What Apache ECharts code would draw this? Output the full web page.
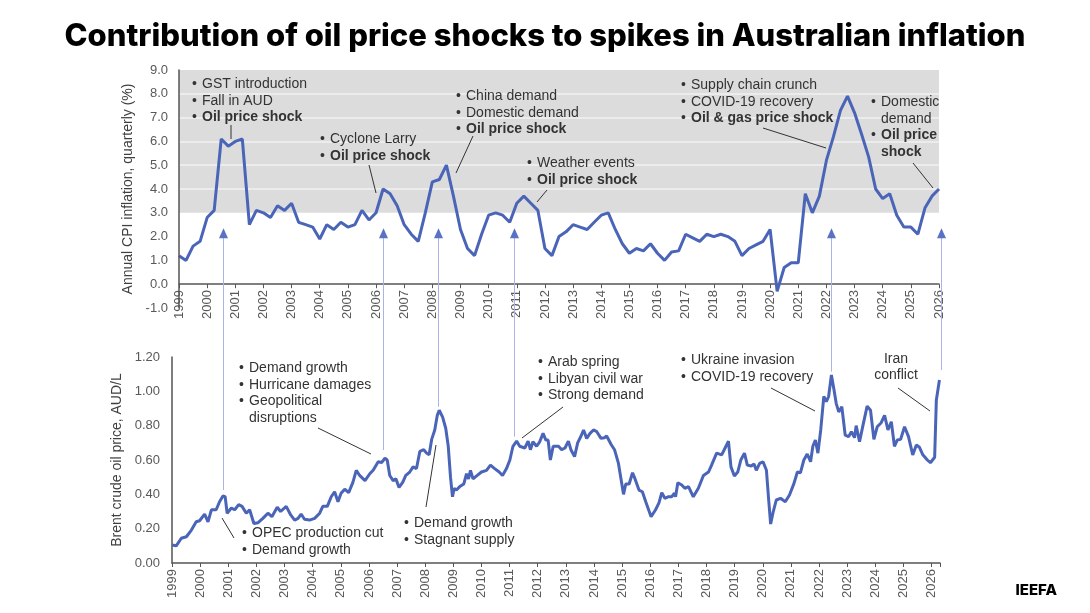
<!DOCTYPE html>
<html lang="en">
<head>
  <meta charset="UTF-8">
  <title>Oil price shocks and Australian inflation</title>
  <style>
    body { margin: 0; background-color: #fff; }
  </style>
  <script src="https://cdn.jsdelivr.net/npm/echarts@6/dist/echarts.min.js"></script>
</head>
<body>
<div id="chart" style="width: 1090px; height: 613px;"></div>
<script>
  // Annual CPI inflation, quarterly, from Q1 1999
  const cpiStart = 1999
  const cpiValues = [
    1.2, 1.0, 1.6, 1.8,   2.8, 3.1, 6.1, 5.8,   6.0, 6.1, 2.5, 3.1,
    3.0, 2.8, 3.3, 3.1,   3.4, 2.6, 2.5, 2.4,   1.9, 2.5, 2.3, 2.6,
    2.4, 2.5, 3.1, 2.7,   3.0, 4.0, 3.8, 3.3,   2.5, 2.1, 1.8, 3.0,
    4.3, 4.4, 5.0, 3.7,   2.3, 1.5, 1.2, 2.1,   2.9, 3.0, 2.9, 2.6,
    3.4, 3.7, 3.4, 3.1,   1.5, 1.2, 2.0, 2.2,   2.5, 2.4, 2.3, 2.6,
    2.9, 3.0, 2.3, 1.7,   1.3, 1.5, 1.4, 1.7,   1.3, 1.0, 1.35, 1.4,
    2.1, 1.95, 1.8, 2.1,  2.0, 2.1, 2.0, 1.8,   1.2, 1.5, 1.65, 1.8,
    2.3, -0.3, 0.7, 0.9,  0.9, 3.8, 3.0, 3.7,   5.2, 6.2, 7.3, 7.9,
    7.2, 6.3, 5.35, 4.0,  3.6, 3.8, 2.9, 2.4,   2.4, 2.1, 3.2, 3.7,
    4.0
  ]

  // Brent crude oil price, AUD/L (date as decimal year)
  const oilDates = [
    1999.00, 1999.15, 1999.33, 1999.51, 1999.69, 1999.86, 1999.98, 2000.16, 2000.28, 2000.40,
    2000.57, 2000.69, 2000.81, 2000.89, 2000.96, 2001.11, 2001.23, 2001.37, 2001.49, 2001.64,
    2001.76, 2001.91, 2002.06, 2002.23, 2002.41, 2002.55, 2002.74, 2002.86, 2003.06, 2003.22,
    2003.36, 2003.48, 2003.59, 2003.71, 2003.89, 2004.07, 2004.25, 2004.36, 2004.52, 2004.66,
    2004.78, 2004.90, 2005.01, 2005.14, 2005.28, 2005.43, 2005.55, 2005.67, 2005.86, 2006.03,
    2006.15, 2006.33, 2006.45, 2006.57, 2006.65, 2006.74, 2006.86, 2006.96, 2007.07, 2007.20,
    2007.31, 2007.45, 2007.57, 2007.69, 2007.81, 2007.95, 2008.05, 2008.14, 2008.23, 2008.34,
    2008.43, 2008.50, 2008.62, 2008.73, 2008.82, 2008.90, 2008.97, 2009.03, 2009.11, 2009.23,
    2009.37, 2009.47, 2009.54, 2009.61, 2009.70, 2009.85, 2010.00, 2010.18, 2010.32, 2010.47,
    2010.63, 2010.75, 2010.89, 2011.01, 2011.12, 2011.25, 2011.36, 2011.54, 2011.66, 2011.74,
    2011.83, 2011.96, 2012.07, 2012.19, 2012.29, 2012.37, 2012.45, 2012.55, 2012.62, 2012.74,
    2012.85, 2012.97, 2013.09, 2013.18, 2013.31, 2013.42, 2013.54, 2013.63, 2013.74, 2013.86,
    2013.98, 2014.10, 2014.25, 2014.37, 2014.45, 2014.61, 2014.73, 2014.87, 2014.99, 2015.05,
    2015.13, 2015.25, 2015.37, 2015.46, 2015.60, 2015.72, 2015.84, 2016.03, 2016.19, 2016.31,
    2016.41, 2016.52, 2016.65, 2016.76, 2016.86, 2016.90, 2016.98, 2017.12, 2017.23, 2017.36,
    2017.53, 2017.71, 2017.89, 2018.07, 2018.18, 2018.36, 2018.54, 2018.66, 2018.78, 2018.87,
    2018.99, 2019.11, 2019.22, 2019.35, 2019.45, 2019.59, 2019.69, 2019.77, 2019.89, 2020.01,
    2020.13, 2020.21, 2020.28, 2020.36, 2020.48, 2020.63, 2020.80, 2020.95, 2021.11, 2021.23,
    2021.34, 2021.46, 2021.58, 2021.70, 2021.78, 2021.87, 2021.96, 2022.06, 2022.17, 2022.26,
    2022.34, 2022.44, 2022.53, 2022.61, 2022.70, 2022.81, 2022.93, 2023.05, 2023.15, 2023.26,
    2023.32, 2023.44, 2023.56, 2023.71, 2023.83, 2023.95, 2024.07, 2024.21, 2024.33, 2024.45,
    2024.57, 2024.68, 2024.78, 2024.90, 2025.04, 2025.18, 2025.33, 2025.46, 2025.57, 2025.69,
    2025.85, 2025.96, 2026.11, 2026.17, 2026.28
  ]
  const oilPrices = [
    0.105, 0.10, 0.144, 0.153, 0.192, 0.24, 0.246, 0.285, 0.24, 0.31,
    0.31, 0.357, 0.39, 0.386, 0.29, 0.32, 0.31, 0.34, 0.33, 0.29,
    0.31, 0.23, 0.235, 0.26, 0.29, 0.27, 0.325, 0.30, 0.33, 0.28,
    0.25, 0.26, 0.285, 0.255, 0.25, 0.26, 0.29, 0.33, 0.33, 0.386,
    0.415, 0.357, 0.406, 0.43, 0.41, 0.47, 0.54, 0.51, 0.48, 0.52,
    0.54, 0.59, 0.585, 0.61, 0.60, 0.51, 0.48, 0.49, 0.44, 0.47,
    0.51, 0.53, 0.56, 0.55, 0.65, 0.66, 0.64, 0.63, 0.72, 0.775,
    0.86, 0.89, 0.85, 0.785, 0.68, 0.50, 0.386, 0.435, 0.425, 0.445,
    0.46, 0.52, 0.49, 0.54, 0.49, 0.51, 0.53, 0.54, 0.57, 0.55,
    0.53, 0.51, 0.55, 0.60, 0.68, 0.71, 0.68, 0.67, 0.71, 0.66,
    0.706, 0.68, 0.706, 0.755, 0.716, 0.716, 0.60, 0.68, 0.68, 0.68,
    0.66, 0.67, 0.71, 0.66, 0.62, 0.70, 0.74, 0.775, 0.726, 0.755,
    0.775, 0.765, 0.726, 0.73, 0.74, 0.69, 0.66, 0.58, 0.46, 0.40,
    0.46, 0.46, 0.526, 0.49, 0.425, 0.415, 0.357, 0.27, 0.31, 0.35,
    0.41, 0.377, 0.386, 0.386, 0.406, 0.386, 0.468, 0.454, 0.435, 0.445,
    0.386, 0.435, 0.51, 0.53, 0.57, 0.64, 0.63, 0.67, 0.71, 0.56,
    0.507, 0.53, 0.60, 0.64, 0.57, 0.565, 0.577, 0.54, 0.58, 0.59,
    0.54, 0.367, 0.227, 0.29, 0.367, 0.377, 0.357, 0.396, 0.464, 0.53,
    0.526, 0.60, 0.635, 0.59, 0.68, 0.716, 0.64, 0.775, 0.97, 0.94,
    0.97, 1.095, 1.01, 0.93, 0.88, 0.91, 0.745, 0.736, 0.765, 0.73,
    0.80, 0.706, 0.80, 0.914, 0.89, 0.72, 0.794, 0.817, 0.86, 0.775,
    0.823, 0.68, 0.716, 0.72, 0.794, 0.736, 0.63, 0.687, 0.674, 0.63,
    0.60, 0.584, 0.616, 0.95, 1.066
  ]

  // Shock arrows: year on the oil chart, oil value where the arrow starts
  const shockYears = [2000.80, 2006.50, 2008.46, 2011.16, 2022.44, 2026.32]
  const shockOilTops = [0.425, 0.658, 0.91, 0.736, 1.114, 1.124]
  const arrowTipCpi = 2.35

  // Annotation text blocks: [x, y, lines]; a line starting with '*' is bold
  const topNotes = [
    [192, 84, ['• GST introduction', '• Fall in AUD', '*• Oil price shock']],
    [320, 139, ['• Cyclone Larry', '*• Oil price shock']],
    [456, 96, ['• China demand', '• Domestic demand', '*• Oil price shock']],
    [527, 163, ['• Weather events', '*• Oil price shock']],
    [681, 85, ['• Supply chain crunch', '• COVID-19 recovery', '*• Oil & gas price shock']],
    [871, 102, ['• Domestic', '  demand', '*• Oil price', '*  shock']]
  ]
  const bottomNotes = [
    [239, 368, ['• Demand growth', '• Hurricane damages', '• Geopolitical', '  disruptions']],
    [242, 533, ['• OPEC production cut', '• Demand growth']],
    [404, 523, ['• Demand growth', '• Stagnant supply']],
    [538, 362, ['• Arab spring', '• Libyan civil war', '• Strong demand']],
    [681, 360, ['• Ukraine invasion', '• COVID-19 recovery']]
  ]
  const leaders = [
    [231, 125, 231, 139], [369, 165, 376, 193], [473, 136, 456, 173],
    [547, 190, 537, 202], [763, 128, 826, 148], [913, 163, 933, 188],
    [318, 428, 371, 454], [222, 518, 234, 538], [436, 445, 426, 507],
    [563, 407, 522, 438], [771, 388, 815, 411], [898, 388, 930, 411]
  ]

  const blue = '#4a64b8'
  const axisGrey = '#595959'
  const font = "'Liberation Sans', Arial, sans-serif"

  const cpiData = cpiValues.map((v, i) => [cpiStart + i * 0.25, v])
  const oilData = oilDates.map((d, i) => [d, oilPrices[i]])

  const chart = echarts.init(document.getElementById('chart'))

  const yearLabel = {
    rotate: 90,
    color: axisGrey,
    fontSize: 13,
    fontFamily: font,
    margin: 6,
    formatter: v => Number.isInteger(v) ? String(v) : ''
  }

  const option = {
    animation: false,
    title: {
      text: 'Contribution of oil price shocks to spikes in Australian inflation',
      left: 'center',
      top: 21,
      padding: 0,
      textStyle: { fontFamily: 'Inter', fontWeight: 800, fontSize: 31, color: '#000' }
    },
    grid: [
      { left: 179, right: 151, top: 70, bottom: 305 },
      { left: 172, right: 150, top: 357, bottom: 50 }
    ],
    xAxis: [
      {
        type: 'value', gridIndex: 0, min: 1999, max: 2026, interval: 1,
        axisLine: { onZero: true, lineStyle: { color: '#555', width: 1.5 } },
        axisTick: { show: true, length: 4, lineStyle: { color: '#555' } },
        splitLine: { show: false },
        axisLabel: Object.assign({}, yearLabel, { margin: -18 })
      },
      {
        type: 'value', gridIndex: 1, min: 1999, max: 2026.3, interval: 1,
        axisLine: { lineStyle: { color: '#555', width: 1.5 } },
        axisTick: { show: true, length: 4, lineStyle: { color: '#555' } },
        splitLine: { show: false },
        axisLabel: yearLabel
      }
    ],
    yAxis: [
      {
        type: 'value', gridIndex: 0, min: -1, max: 9, interval: 1, z: 3,
        name: 'Annual CPI inflation, quarterly (%)',
        nameLocation: 'middle', nameGap: 34,
        nameTextStyle: { fontSize: 14, fontFamily: font, color: '#404040' },
        axisLine: { show: true, lineStyle: { color: '#555', width: 1.5 } },
        axisTick: { show: false },
        splitLine: { show: false },
        axisLabel: { color: axisGrey, fontSize: 13, fontFamily: font, margin: 11,
          formatter: v => v.toFixed(1) }
      },
      {
        type: 'value', gridIndex: 1, min: 0, max: 1.2, interval: 0.2,
        name: 'Brent crude oil price, AUD/L',
        nameLocation: 'middle', nameGap: 32,
        nameTextStyle: { fontSize: 14, fontFamily: font, color: '#404040' },
        axisLine: { show: true, lineStyle: { color: '#555', width: 1.5 } },
        axisTick: { show: false },
        splitLine: { show: false },
        axisLabel: { color: axisGrey, fontSize: 13, fontFamily: font, margin: 12,
          formatter: v => v.toFixed(2) }
      }
    ],
    series: [
      {
        type: 'line', xAxisIndex: 0, yAxisIndex: 0, data: cpiData,
        symbol: 'none', z: 2,
        lineStyle: { color: blue, width: 3 },
        markArea: {
          silent: true, z: 1,
          itemStyle: { color: '#dcdcdc' },
          data: [[{ yAxis: 3 }, { yAxis: 9 }]]
        },
        markLine: {
          silent: true, z: 1.5,
          symbol: ['none', 'none'],
          label: { show: false },
          lineStyle: { color: '#f2f2f2', width: 1.5, type: 'solid' },
          data: [{ yAxis: 4 }, { yAxis: 5 }, { yAxis: 6 }, { yAxis: 7 }, { yAxis: 8 }]
        }
      },
      {
        type: 'line', xAxisIndex: 1, yAxisIndex: 1, data: oilData,
        symbol: 'none', z: 2,
        lineStyle: { color: blue, width: 3 }
      }
    ]
  }
  chart.setOption(option)

  // annotations and arrows
  const graphics = []
  function addNotes(notes) {
    notes.forEach(([x, y, lines]) => {
      lines.forEach((line, k) => {
        const bold = line.startsWith('*')
        const txt = bold ? line.slice(1) : line
        const isBullet = txt.startsWith('•')
        const body = txt.replace(/^•\s*/, '').replace(/^\s+/, '')
        if (isBullet) {
          graphics.push({ type: 'text', x: x, y: y + k * 16.7, z: 10,
            style: { text: '•', fontSize: 14, fontFamily: font, fill: '#333', verticalAlign: 'middle' } })
        }
        graphics.push({ type: 'text', x: x + 10, y: y + k * 16.7, z: 10,
          style: { text: body, fontSize: 14, fontFamily: font, fontWeight: bold ? 'bold' : 'normal',
            fill: '#333', verticalAlign: 'middle' } })
      })
    })
  }
  addNotes(topNotes)
  addNotes(bottomNotes)
  graphics.push({ type: 'text', x: 896, y: 367, z: 10,
    style: { text: 'Iran\nconflict', fontSize: 14, fontFamily: font, fill: '#333',
      align: 'center', verticalAlign: 'middle', lineHeight: 16.7 } })
  graphics.push({ type: 'text', x: 1057, y: 590, z: 10,
    style: { text: 'IEEFA', fontSize: 15, fontFamily: 'Inter', fontWeight: 800, fill: '#000',
      align: 'right', verticalAlign: 'middle' } })

  leaders.forEach(([x1, y1, x2, y2]) => {
    graphics.push({ type: 'line', z: 10, shape: { x1, y1, x2, y2 },
      style: { stroke: '#333', lineWidth: 1 } })
  })

  const tipY = chart.convertToPixel({ gridIndex: 0 }, [2000, arrowTipCpi])[1]
  shockYears.forEach((yr, i) => {
    const p = chart.convertToPixel({ gridIndex: 1 }, [yr, shockOilTops[i]])
    const x = Math.round(p[0]) + 0.5
    graphics.push({ type: 'line', z: 9, shape: { x1: x, y1: tipY + 8, x2: x, y2: p[1] },
      style: { stroke: '#a7b4e4', lineWidth: 1 } })
    graphics.push({ type: 'polygon', z: 9,
      shape: { points: [[x, tipY], [x - 4.5, tipY + 10], [x + 4.5, tipY + 10]] },
      style: { fill: '#5a72c6' } })
  })

  chart.setOption({ graphic: graphics })
</script>
</body>
</html>
